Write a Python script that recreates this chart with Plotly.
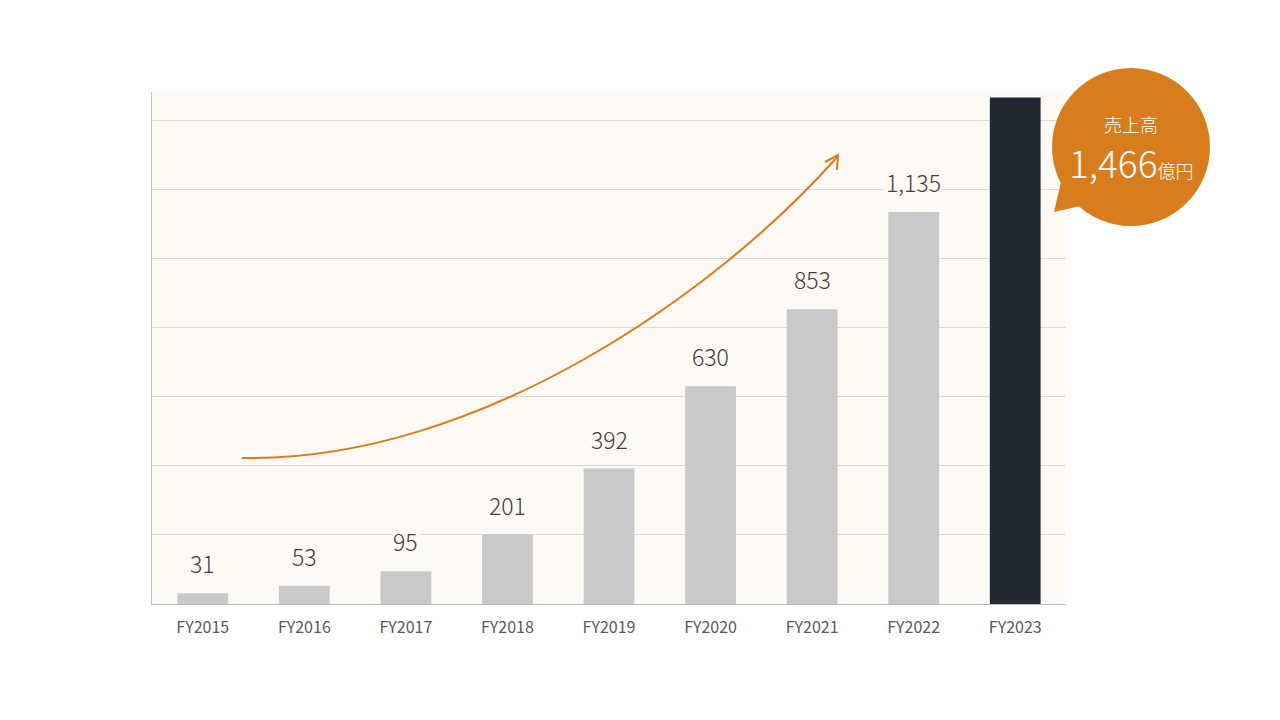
import plotly.graph_objects as go

categories = ["FY2015", "FY2016", "FY2017", "FY2018", "FY2019", "FY2020", "FY2021", "FY2022", "FY2023"]
sales = [31, 53, 95, 201, 392, 630, 853, 1135, 1466]
bar_colors = ["#c9c9c9"] * 8 + ["#1f2833"]
labels = ["31", "53", "95", "201", "392", "630", "853", "1,135", ""]

FONT = "Noto Sans CJK JP"
PLOT_BG = "#fdf9f5"
ORANGE = "#d87d1e"

# plot-area geometry (pixels) used only for decorative shapes
L, R, T, B = 152, 1066, 92, 604


def px(x):
    return (x - L) / (R - L)


def py(y):
    return (B - y) / (B - T)


fig = go.Figure()
fig.add_trace(go.Bar(
    x=categories, y=sales, marker=dict(color=bar_colors, line=dict(width=0)),
    width=0.5, hoverinfo="x+y",
))

annotations = []
for c, v, t in zip(categories, sales, labels):
    if t:
        annotations.append(dict(
            x=c, y=v, text=t, showarrow=False, yanchor="bottom", yshift=11,
            font=dict(family=FONT, size=23, color="#404040", weight=300), bgcolor=PLOT_BG,
            borderpad=1,
        ))

# callout text
annotations.append(dict(
    xref="paper", yref="paper", x=px(1131), y=py(124), text="売上高", showarrow=False,
    font=dict(family=FONT, size=18, color="#ffffff", weight=300), xanchor="center", yanchor="middle",
))
annotations.append(dict(
    xref="paper", yref="paper", x=px(1131), y=py(162),
    text="<span style='font-size:37px'>1,466</span><span style='font-size:18px'>億円</span>",
    showarrow=False, font=dict(family=FONT, size=37, color="#ffffff", weight=300),
    xanchor="center", yanchor="middle",
))

# curved arrow
p0, p1, p2, p3 = (242, 458), (480, 462), (720, 290), (838, 156)
curve = "M {},{} C {},{} {},{} {},{}".format(
    px(p0[0]), py(p0[1]), px(p1[0]), py(p1[1]), px(p2[0]), py(p2[1]), px(p3[0]), py(p3[1]))
head = "M {},{} L {},{} L {},{}".format(
    px(825), py(162), px(838), py(155), px(837), py(170))

shapes = [
    dict(type="path", xref="paper", yref="paper", path=curve,
         line=dict(color=ORANGE, width=2)),
    dict(type="path", xref="paper", yref="paper", path=head,
         line=dict(color=ORANGE, width=2)),
    # callout bubble
    dict(type="circle", xref="paper", yref="paper", xsizemode="pixel", ysizemode="pixel",
         xanchor=px(1131), yanchor=py(147), x0=-79, x1=79, y0=-79, y1=79,
         fillcolor=ORANGE, line=dict(width=0), layer="above"),
    dict(type="path", xref="paper", yref="paper",
         path="M {},{} L {},{} L {},{} Z".format(px(1062), py(178), px(1054), py(212), px(1085), py(205)),
         fillcolor=ORANGE, line=dict(width=0), layer="above"),
]

fig.update_layout(
    width=1280, height=720,
    margin=dict(l=L, r=1280 - R, t=T, b=720 - B),
    paper_bgcolor="#ffffff", plot_bgcolor=PLOT_BG,
    showlegend=False, bargap=0.5,
    annotations=annotations, shapes=shapes,
    font=dict(family=FONT),
)
fig.update_xaxes(
    showline=True, linecolor="#bfbfbf", linewidth=1, showgrid=False,
    tickfont=dict(family=FONT, size=16, color="#595959"), ticks="", ticklabelstandoff=9,
)
fig.update_yaxes(
    range=[0, 1482], dtick=200, showgrid=True, gridcolor="#d9d9d9", gridwidth=1,
    showticklabels=False, zeroline=False, showline=True, linecolor="#bfbfbf", linewidth=1,
)

fig.write_html("out.html")
